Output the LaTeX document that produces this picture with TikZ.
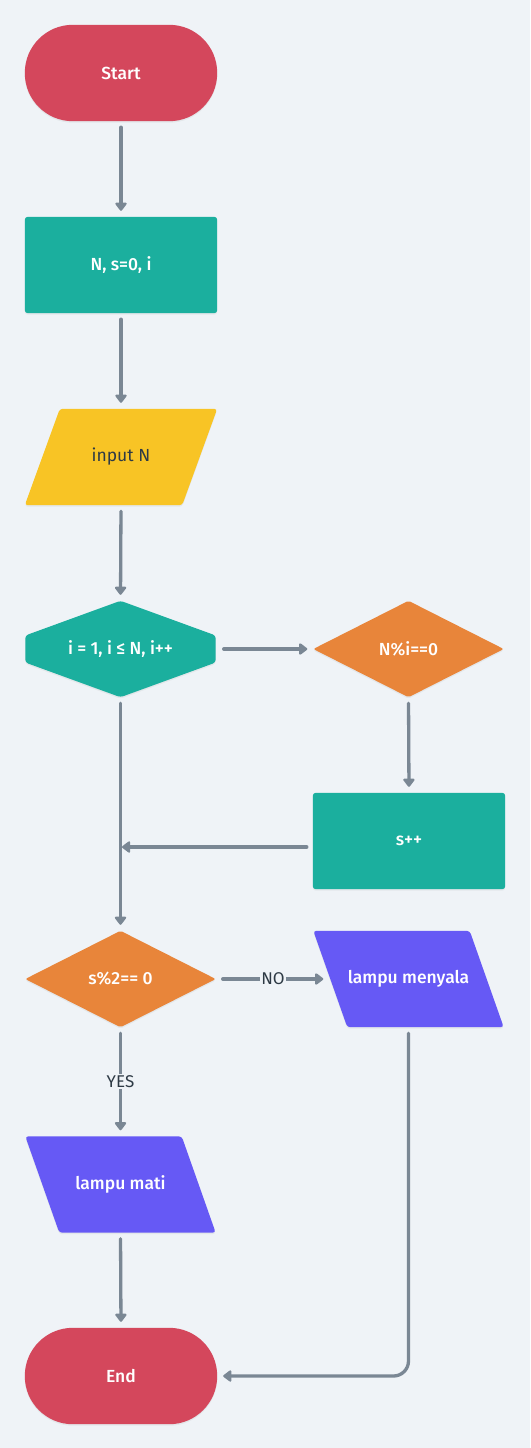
\documentclass[tikz,border=0pt]{standalone}
\usepackage{fontspec}
\setmainfont{Fira Sans}[BoldFont={Fira Sans Medium}]
\usetikzlibrary{arrows.meta,calc,shadows}
\pgfdeclarelayer{background}
\pgfdeclarelayer{canvas}
\pgfsetlayers{canvas,background,main}
\definecolor{bgc}{HTML}{EFF3F7}
\definecolor{cred}{HTML}{D4475C}
\definecolor{cteal}{HTML}{1BAF9E}
\definecolor{cyel}{HTML}{F8C425}
\definecolor{corange}{HTML}{E8853A}
\definecolor{cpurple}{HTML}{6659F5}
\definecolor{cline}{HTML}{7A8794}
\definecolor{cdark}{HTML}{2E3A45}
\tikzset{
  shp/.style={draw=none, minimum width=192pt, minimum height=96pt, inner sep=0pt,
    font=\fontsize{17.5}{20}\selectfont\bfseries, text=white},
  shpdark/.style={shp, text=cdark, font=\fontsize{17.5}{20}\selectfont},
  conn/.style={draw=cline, line width=3.3pt, line cap=round,
    -{Triangle[width=13pt,length=9pt,round]}, shorten >=6pt, shorten <=6pt},
  lbl/.style={fill=bgc, inner sep=1.5pt, text=cdark, font=\fontsize{17}{20}\selectfont},
  shad/.style={drop shadow={opacity=0.10, shadow xshift=0pt, shadow yshift=-1.5pt}}
}
\begin{document}
\begin{tikzpicture}[x=1pt,y=-1pt]
\begin{pgfonlayer}{canvas}
\fill[bgc] (0,0) rectangle (530,1448);
\end{pgfonlayer}
\useasboundingbox (0,0) rectangle (530,1448);

\node[shp] (start) at (121,73) {Start};
\node[shp] (init) at (121,265) {N, s=0, i};
\node[shpdark] (inp) at (121,457) {input N};
\node[shp, minimum width=190pt] (loop) at (120.5,649) {i = 1, i ≤ N, i++};
\node[shp, minimum width=190pt] (mod) at (408.5,649) {N\%i==0};
\node[shp] (inc) at (409,841) {s++};
\node[shp, minimum width=190pt] (par) at (120.5,979) {s\%2== 0};
\node[shp, minimum width=190pt] (nyala) at (408.5,979) {lampu menyala};
\node[shp, minimum width=190pt] (mati) at (120.5,1184.5) {lampu mati};
\node[shp] (end) at (121,1376) {End};

\begin{pgfonlayer}{background}
\fill[cred, shad, rounded corners=48pt] (start.north west) rectangle (start.south east);
\fill[cteal, shad, rounded corners=3pt] (init.north west) rectangle (init.south east);
\fill[cyel, shad, rounded corners=3pt] ($(inp.north west)+(35,0)$) -- (inp.north east) -- ($(inp.south east)+(-35,0)$) -- (inp.south west) -- cycle;
\fill[cteal, shad, rounded corners=3pt] (loop.north) -- ($(loop.east)+(0,-13.5)$) -- ($(loop.east)+(0,13.5)$) -- (loop.south) -- ($(loop.west)+(0,13.5)$) -- ($(loop.west)+(0,-13.5)$) -- cycle;
\fill[corange, shad, rounded corners=2pt] (mod.north) -- (mod.east) -- (mod.south) -- (mod.west) -- cycle;
\fill[cteal, shad, rounded corners=3pt] (inc.north west) rectangle (inc.south east);
\fill[corange, shad, rounded corners=2pt] (par.north) -- (par.east) -- (par.south) -- (par.west) -- cycle;
\fill[cpurple, shad, rounded corners=3pt] (nyala.north west) -- ($(nyala.north east)+(-34,0)$) -- (nyala.south east) -- ($(nyala.south west)+(34,0)$) -- cycle;
\fill[cpurple, shad, rounded corners=3pt] (mati.north west) -- ($(mati.north east)+(-34,0)$) -- (mati.south east) -- ($(mati.south west)+(34,0)$) -- cycle;
\fill[cred, shad, rounded corners=48pt] (end.north west) rectangle (end.south east);
\end{pgfonlayer}

\coordinate (incout) at ($(inc.west)+(0,6)$);
\coordinate (join) at (incout -| loop.south);

\draw[conn] (start.south) -- (init.north);
\draw[conn] (init.south) -- (inp.north);
\draw[conn] (inp.south) -- (loop.north);
\draw[conn, shorten <=8pt] (loop.east) -- (mod.west);
\draw[conn] (mod.south) -- (inc.north);
\draw[conn, shorten >=1.5pt] (incout) -- (join);
\draw[conn] (loop.south) -- (par.north);
\draw[conn, shorten <=7pt, shorten >=7pt] (par.east) -- node[lbl] (no) {NO} ($(nyala.west)+(17,0)$);
\draw[conn] (par.south) -- node[lbl, pos=0.5] (yes) {YES} (mati.north);
\draw[conn] (mati.south) -- (end.north);
\draw[conn, rounded corners=15pt] (nyala.south) -- (nyala.south |- end.east) -- (end.east);
\end{tikzpicture}
\end{document}
